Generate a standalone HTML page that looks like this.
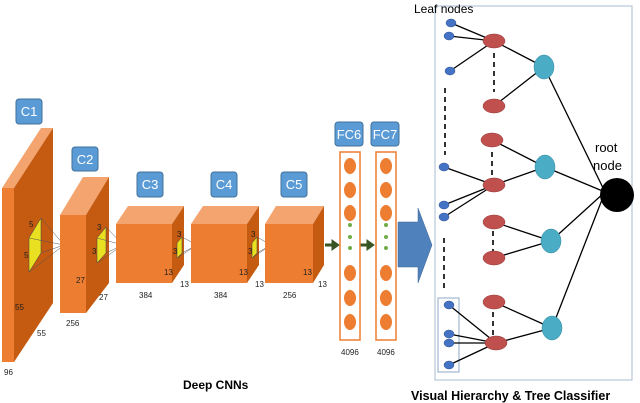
<!DOCTYPE html>
<html><head><meta charset="utf-8"><style>
html,body{margin:0;padding:0;background:#fff;}
svg{display:block;font-family:"Liberation Sans",sans-serif;}
.lb{fill:#5B9BD5;stroke:#41719C;stroke-width:1}
.lt{fill:#fff;font-size:13px;text-anchor:middle}
.fr{fill:#ED7D31}.sd{fill:#C55A11}.tp{fill:#F4A46E}
.n{font-size:8px;fill:#222}
.e{stroke:#000;stroke-width:1.3;fill:none}
.d{stroke:#000;stroke-width:1.6;stroke-dasharray:5,4}
.bl{fill:#4472C4;stroke:#2F528F;stroke-width:.5}
.rd{fill:#C0504D;stroke:#8C3836;stroke-width:.5}
.cy{fill:#4BACC6;stroke:#31859C;stroke-width:.5}
</style></head><body>
<svg width="640" height="403" viewBox="0 0 640 403">
<!-- C1 -->
<rect class="lb" x="16" y="99" width="26" height="25" rx="3"/><text class="lt" x="29" y="116">C1</text>
<polygon class="tp" points="2,188 14,188 53,128 41,128"/>
<polygon class="sd" points="14,188 53,128 53,303 14,362"/>
<rect class="fr" x="2" y="188" width="12" height="174"/>
<polygon points="29,238 41,218 41,253 29,272" fill="#E8E020" stroke="#444" stroke-width=".5"/>
<g stroke="#555" stroke-width=".5"><line x1="41" y1="218" x2="64" y2="245"/><line x1="29" y1="238" x2="64" y2="245"/><line x1="41" y1="253" x2="64" y2="245"/><line x1="29" y1="272" x2="64" y2="245"/></g>
<text class="n" x="29" y="227">5</text><text class="n" x="24" y="258">5</text>
<text class="n" x="15" y="310">55</text><text class="n" x="37" y="336">55</text><text class="n" x="4" y="375">96</text>
<!-- C2 -->
<rect class="lb" x="72" y="147" width="26" height="24" rx="3"/><text class="lt" x="85" y="164">C2</text>
<polygon class="tp" points="60,215 86,215 109,177 83,177"/>
<polygon class="sd" points="86,215 109,177 109,283 86,313"/>
<rect class="fr" x="60" y="215" width="26" height="98"/>
<polygon points="97,238 106,227 106,253 97,263" fill="#E8E020" stroke="#444" stroke-width=".5"/>
<g stroke="#555" stroke-width=".5"><line x1="106" y1="227" x2="123" y2="245"/><line x1="97" y1="238" x2="123" y2="245"/><line x1="106" y1="253" x2="123" y2="245"/><line x1="97" y1="263" x2="123" y2="245"/></g>
<text class="n" x="97" y="230">3</text><text class="n" x="92" y="254">3</text>
<text class="n" x="76" y="283">27</text><text class="n" x="99" y="300">27</text><text class="n" x="66" y="326">256</text>
<!-- C3 -->
<rect class="lb" x="137" y="172" width="26" height="25" rx="3"/><text class="lt" x="150" y="189">C3</text>
<polygon class="tp" points="116,224 172,224 184,206 128,206"/>
<polygon class="sd" points="172,224 184,206 184,265 172,283"/>
<rect class="fr" x="116" y="224" width="56" height="59"/>
<polygon points="177,243 182,237 182,253 177,258" fill="#E8E020" stroke="#444" stroke-width=".5"/>
<g stroke="#555" stroke-width=".5"><line x1="182" y1="237" x2="197" y2="245"/><line x1="177" y1="258" x2="197" y2="245"/><line x1="182" y1="253" x2="197" y2="245"/></g>
<text class="n" x="177" y="237">3</text><text class="n" x="173" y="254">3</text>
<text class="n" x="164" y="275">13</text><text class="n" x="180" y="287">13</text><text class="n" x="139" y="298">384</text>
<!-- C4 -->
<rect class="lb" x="211" y="172" width="26" height="25" rx="3"/><text class="lt" x="224" y="189">C4</text>
<polygon class="tp" points="191,224 247,224 259,206 203,206"/>
<polygon class="sd" points="247,224 259,206 259,265 247,283"/>
<rect class="fr" x="191" y="224" width="56" height="59"/>
<polygon points="252,243 257,237 257,253 252,258" fill="#E8E020" stroke="#444" stroke-width=".5"/>
<g stroke="#555" stroke-width=".5"><line x1="257" y1="237" x2="271" y2="245"/><line x1="252" y1="258" x2="271" y2="245"/><line x1="257" y1="253" x2="271" y2="245"/></g>
<text class="n" x="251" y="237">3</text><text class="n" x="248" y="254">3</text>
<text class="n" x="239" y="275">13</text><text class="n" x="255" y="287">13</text><text class="n" x="214" y="298">384</text>
<!-- C5 -->
<rect class="lb" x="281" y="172" width="26" height="25" rx="3"/><text class="lt" x="294" y="189">C5</text>
<polygon class="tp" points="265,224 313,224 324,206 276,206"/>
<polygon class="sd" points="313,224 324,206 324,265 313,283"/>
<rect class="fr" x="265" y="224" width="48" height="59"/>
<text class="n" x="303" y="275">13</text><text class="n" x="318" y="287">13</text><text class="n" x="283" y="298">256</text>
<!-- green arrows -->
<g fill="#375623" stroke="#375623"><line x1="325" y1="245" x2="333" y2="245" stroke-width="3"/><polygon points="332,240 339,245 332,250"/>
<line x1="360" y1="245" x2="368" y2="245" stroke-width="3"/><polygon points="367,240 374,245 367,250"/></g>
<!-- FC -->
<rect class="lb" x="335" y="122" width="28" height="24" rx="3"/><text class="lt" x="349" y="139">FC6</text>
<rect class="lb" x="371" y="122" width="28" height="24" rx="3"/><text class="lt" x="385" y="139">FC7</text>
<g fill="none" stroke="#ED7D31" stroke-width="1.5"><rect x="340" y="152" width="20" height="188"/><rect x="376" y="152" width="20" height="188"/></g>
<g fill="#ED7D31">
<ellipse cx="350" cy="166" rx="6" ry="8"/><ellipse cx="350" cy="190" rx="6" ry="8"/><ellipse cx="350" cy="213" rx="6" ry="8"/>
<ellipse cx="350" cy="273" rx="6" ry="8"/><ellipse cx="350" cy="298" rx="6" ry="8"/><ellipse cx="350" cy="322" rx="6" ry="8"/>
<ellipse cx="386" cy="166" rx="6" ry="8"/><ellipse cx="386" cy="190" rx="6" ry="8"/><ellipse cx="386" cy="213" rx="6" ry="8"/>
<ellipse cx="386" cy="273" rx="6" ry="8"/><ellipse cx="386" cy="298" rx="6" ry="8"/><ellipse cx="386" cy="322" rx="6" ry="8"/>
</g>
<g fill="#70AD47"><circle cx="350" cy="225" r="2"/><circle cx="350" cy="237" r="2"/><circle cx="350" cy="248" r="2"/><circle cx="386" cy="225" r="2"/><circle cx="386" cy="237" r="2"/><circle cx="386" cy="248" r="2"/></g>
<text class="n" x="341" y="355">4096</text><text class="n" x="377" y="355">4096</text>
<!-- big arrow -->
<polygon points="398,222 418,222 418,208 432,245 418,283 418,267 398,267" fill="#4F81BD" stroke="#3A6494" stroke-width=".5"/>
<!-- right panel -->
<rect x="435" y="6" width="197" height="374" fill="none" stroke="#A9BCD0" stroke-width="1"/>
<rect x="438" y="298" width="21" height="74" fill="none" stroke="#8EA9C8" stroke-width="1"/>
<text x="414" y="13" font-size="12" fill="#000">Leaf nodes</text>
<g class="e">
<path d="M451,23L494,41M449,36L494,41M450,71L494,41M444,167L494,185M444,205L494,185M444,217L494,185M449,305L496,343M449,334L496,343M449,343L496,343M449,365L496,343"/>
<path d="M494,41L544,67M494,106L544,67M492,140L545,167M494,185L545,167M494,222L551,241M494,258L551,241M494,302L552,328M496,343L552,328"/>
<path d="M544,67L605,192M545,167L605,192M551,241L605,192M552,328L605,192"/>
</g>
<g class="d"><line x1="494" y1="53" x2="494" y2="92"/><line x1="492" y1="152" x2="492" y2="175"/><line x1="493" y1="231" x2="493" y2="252"/><line x1="493" y1="312" x2="493" y2="335"/>
<line x1="445" y1="88" x2="445" y2="155"/><line x1="444" y1="238" x2="444" y2="288"/></g>
<g class="bl"><ellipse cx="451" cy="23" rx="5" ry="4"/><ellipse cx="449" cy="36" rx="5" ry="4"/><ellipse cx="450" cy="71" rx="5" ry="4"/><ellipse cx="444" cy="167" rx="5" ry="4"/><ellipse cx="444" cy="205" rx="5" ry="4"/><ellipse cx="444" cy="217" rx="5" ry="4"/><ellipse cx="449" cy="305" rx="5" ry="4"/><ellipse cx="449" cy="334" rx="5" ry="4"/><ellipse cx="449" cy="343" rx="5" ry="4"/><ellipse cx="449" cy="365" rx="5" ry="4"/></g>
<g class="rd"><ellipse cx="494" cy="41" rx="11" ry="7"/><ellipse cx="494" cy="106" rx="11" ry="7"/><ellipse cx="492" cy="140" rx="11" ry="7"/><ellipse cx="494" cy="185" rx="11" ry="7"/><ellipse cx="494" cy="222" rx="11" ry="7"/><ellipse cx="494" cy="258" rx="11" ry="7"/><ellipse cx="494" cy="302" rx="11" ry="7"/><ellipse cx="496" cy="343" rx="11" ry="7"/></g>
<g class="cy"><ellipse cx="544" cy="67" rx="10" ry="12"/><ellipse cx="545" cy="167" rx="10" ry="12"/><ellipse cx="551" cy="241" rx="10" ry="12"/><ellipse cx="552" cy="328" rx="10" ry="12"/></g>
<circle cx="617" cy="195" r="17" fill="#000"/>
<text x="595" y="152" font-size="13">root</text><text x="593" y="170" font-size="13">node</text>
<text x="183" y="389" font-size="12" font-weight="bold">Deep CNNs</text>
<text x="411" y="400" font-size="12.5" font-weight="bold">Visual Hierarchy &amp; Tree Classifier</text>
</svg>
</body></html>
